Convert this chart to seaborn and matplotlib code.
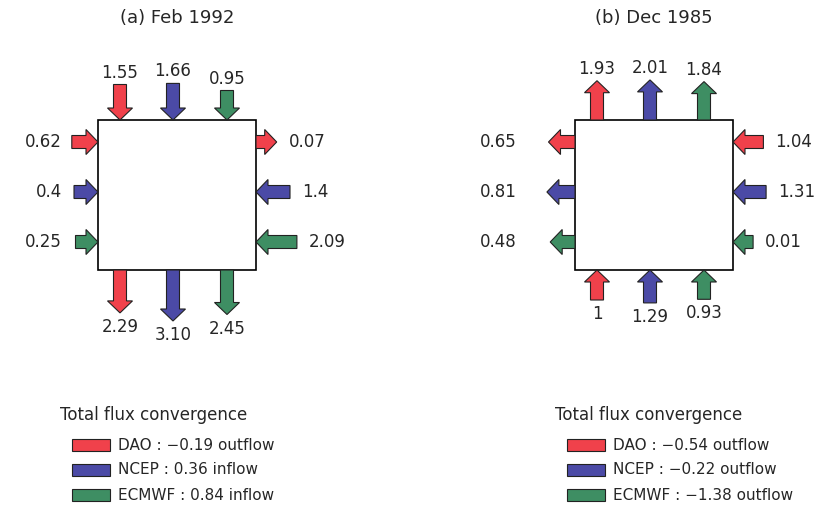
import matplotlib.pyplot as plt
import seaborn as sns
from matplotlib.patches import FancyArrow, Rectangle

models = ['DAO', 'NCEP', 'ECMWF']
colors = ['#f0414b', '#4b4aa6', '#3e8e63']
titles = ['(a) Feb 1992', '(b) Dec 1985']

# flux per side, one value per model; flow: 'in' / 'out' of the box
top_vals = [['1.55', '1.66', '0.95'], ['1.93', '2.01', '1.84']]
top_flow = [['in', 'in', 'in'], ['out', 'out', 'out']]
bottom_vals = [['2.29', '3.10', '2.45'], ['1', '1.29', '0.93']]
bottom_flow = [['out', 'out', 'out'], ['in', 'in', 'in']]
left_vals = [['0.62', '0.4', '0.25'], ['0.65', '0.81', '0.48']]
left_flow = [['in', 'in', 'in'], ['out', 'out', 'out']]
right_vals = [['0.07', '1.4', '2.09'], ['1.04', '1.31', '0.01']]
right_flow = [['out', 'in', 'in'], ['in', 'in', 'in']]

total_vals = [['-0.19', '0.36', '0.84'], ['-0.54', '-0.22', '-1.38']]
total_flow = [['outflow', 'inflow', 'inflow'], ['outflow', 'outflow', 'outflow']]

sns.set_theme(style='white')
plt.rcParams['font.family'] = ['DejaVu Sans']

fig = plt.figure(figsize=(8.18, 5.12), dpi=100)
ax = fig.add_axes([0, 0, 1, 1])
ax.set_xlim(0, 818)
ax.set_ylim(512, 0)
ax.axis('off')

box_x = [98, 575]
left_lab = [36, 58]
bw, bh, by = 158, 150, 120
offs = [22, 75, 129]
side_offs = [22, 72, 122]


def arrow(x, y, dx, dy, c):
    ax.add_patch(FancyArrow(x, y, dx, dy, width=13, head_width=25, head_length=12,
                            length_includes_head=True, fc=c, ec='#222222', lw=0.8, zorder=3))


for p in range(2):
    x0 = box_x[p]
    ax.add_patch(Rectangle((x0, by), bw, bh, fc='white', ec='black', lw=1.2, zorder=2))
    ax.text(x0 + bw / 2, 18, titles[p], ha='center', va='center', fontsize=13)
    for i in range(3):
        c = colors[i]
        # top side
        L = 20 + 10 * float(top_vals[p][i])
        xc = x0 + offs[i]
        if top_flow[p][i] == 'in':
            arrow(xc, by - L, 0, L, c)
        else:
            arrow(xc, by, 0, -L, c)
        ax.text(xc, by - L - 12, top_vals[p][i], ha='center', va='center', fontsize=12)
        # bottom side
        L = 20 + 10 * float(bottom_vals[p][i])
        yb = by + bh
        if bottom_flow[p][i] == 'out':
            arrow(xc, yb, 0, L, c)
        else:
            arrow(xc, yb + L, 0, -L, c)
        ax.text(xc, yb + L + 14, bottom_vals[p][i], ha='center', va='center', fontsize=12)
        # left side
        yc = by + side_offs[i]
        L = 20 + 10 * float(left_vals[p][i])
        if left_flow[p][i] == 'in':
            arrow(x0 - L, yc, L, 0, c)
        else:
            arrow(x0, yc, -L, 0, c)
        ax.text(x0 - left_lab[p], yc, left_vals[p][i], ha='right', va='center', fontsize=12)
        # right side
        xr = x0 + bw
        L = 20 + 10 * float(right_vals[p][i])
        if right_flow[p][i] == 'in':
            arrow(xr + L, yc, -L, 0, c)
        else:
            arrow(xr, yc, L, 0, c)
        ax.text(xr + L + 12, yc, right_vals[p][i], ha='left', va='center', fontsize=12)

    # legend
    lx = [40, 535][p]
    ax.text(lx + 20, 415, 'Total flux convergence', ha='left', va='center', fontsize=12)
    for i in range(3):
        yy = 445 + 25 * i
        ax.add_patch(Rectangle((lx + 32, yy - 6), 38, 12, fc=colors[i], ec='#222222', lw=0.8))
        ax.text(lx + 78, yy, f'{models[i]} : {total_vals[p][i].replace("-", "−")} {total_flow[p][i]}',
                ha='left', va='center', fontsize=11)

fig.savefig('out.png', dpi=100)
